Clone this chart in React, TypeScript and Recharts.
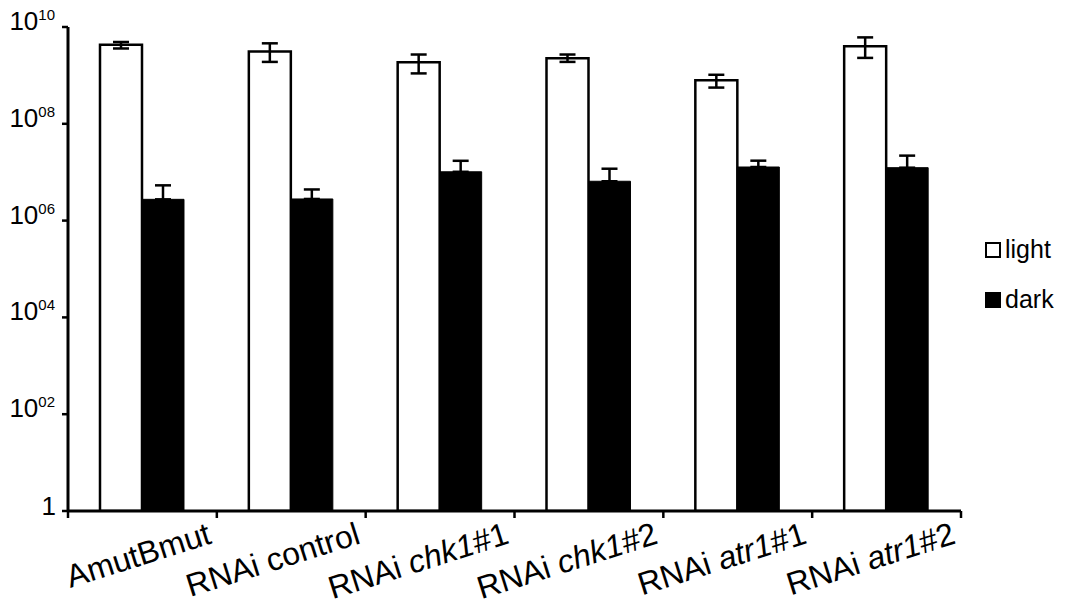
import React from "react";
import { BarChart, Bar, XAxis, YAxis, ErrorBar } from "recharts";

const categories = [
  "AmutBmut",
  "RNAi control",
  "RNAi chk1#1",
  "RNAi chk1#2",
  "RNAi atr1#1",
  "RNAi atr1#2",
];
const lightValues = [4.3e9, 3.1e9, 1.86e9, 2.25e9, 7.9e8, 4.0e9];
const lightErrLow = [0.7e9, 1.2e9, 0.76e9, 0.35e9, 2.3e8, 1.7e9];
const lightErrHigh = [0.6e9, 1.5e9, 0.84e9, 0.45e9, 2.4e8, 2.1e9];
const darkValues = [2.75e6, 2.8e6, 1.02e7, 6.5e6, 1.28e7, 1.24e7];
const darkErrHigh = [2.6e6, 1.6e6, 0.7e7, 5.3e6, 0.45e7, 0.96e7];
const yTicks = [1, 1e2, 1e4, 1e6, 1e8, 1e10];

const data = categories.map((name, i) => ({
  name,
  light: lightValues[i],
  lightErr: [lightErrLow[i], lightErrHigh[i]],
  dark: darkValues[i],
  darkErr: [0, darkErrHigh[i]],
}));

// svg fills the whole page height (body margin cancelled) so labels have room at both edges
const W = 1053;
const H = 610;
const M = { top: 27, right: 100, bottom: 0, left: 0 };
const Y_W = 60;
const X_H = 99;
const band = (W - M.right - Y_W) / categories.length;
const FONT = "'Liberation Sans', Arial, sans-serif";

function YTick({ x, y, payload }: any) {
  const exp = Math.round(Math.log10(payload.value));
  if (exp === 0) {
    return (
      <text x={x + 1} y={y + 4} textAnchor="end" fontSize={26} fontFamily={FONT} fill="#000">
        1
      </text>
    );
  }
  return (
    <text x={x} y={y + 3} textAnchor="end" fontSize={26} fontFamily={FONT} fill="#000">
      10
      <tspan dy={-10} fontSize={15}>
        {String(exp).padStart(2, "0")}
      </tspan>
    </text>
  );
}

function XTick({ x, y, payload, index }: any) {
  const right = x + band / 2;
  const m = /^(RNAi )(\w+)(#\d)$/.exec(payload.value);
  return (
    <g>
      {index === 0 && (
        <line x1={x - band / 2} y1={y} x2={x - band / 2} y2={y + 7} stroke="#000" strokeWidth={2.5} />
      )}
      <line x1={right} y1={y} x2={right} y2={y + 7} stroke="#000" strokeWidth={2.5} />
      <text
        transform={`translate(${right - 4},${y + 32}) rotate(-17.5)`}
        textAnchor="end"
        fontSize={32}
        fontFamily={FONT}
        fill="#000"
      >
        {m ? (
          <>
            {m[1]}
            <tspan fontStyle="italic">{m[2]}</tspan>
            {m[3]}
          </>
        ) : (
          payload.value
        )}
      </text>
    </g>
  );
}

const legendText: React.CSSProperties = {
  position: "absolute",
  fontFamily: FONT,
  fontSize: 25,
  lineHeight: "26px",
  color: "#000",
};
const swatch: React.CSSProperties = {
  position: "absolute",
  width: 16,
  height: 16,
  boxSizing: "border-box",
  border: "2.5px solid #000",
};

export default function App() {
  return (
    <div
      style={{
        position: "relative",
        width: W,
        height: H,
        marginTop: -8,
        marginBottom: -8,
        background: "#fff",
      }}
    >
      <BarChart
        width={W}
        height={H}
        data={data}
        margin={M}
        barCategoryGap="21.5%"
        barGap={0}
      >
        <XAxis
          dataKey="name"
          height={X_H}
          interval={0}
          axisLine={{ stroke: "#000", strokeWidth: 3 }}
          tickLine={false}
          tickSize={0}
          tickMargin={0}
          tick={<XTick />}
        />
        <YAxis
          width={Y_W}
          scale="log"
          type="number"
          domain={[1, 1e10]}
          allowDataOverflow
          ticks={yTicks}
          interval={0}
          axisLine={{ stroke: "#000", strokeWidth: 3 }}
          tickLine={{ stroke: "#000", strokeWidth: 2.5 }}
          tickSize={6}
          tickMargin={7}
          tick={<YTick />}
        />
        <Bar dataKey="light" fill="#fff" stroke="#000" strokeWidth={2.5} isAnimationActive={false}>
          <ErrorBar dataKey="lightErr" width={8} stroke="#000" strokeWidth={2.5} direction="y" />
        </Bar>
        <Bar dataKey="dark" fill="#000" stroke="#000" strokeWidth={1} isAnimationActive={false}>
          <ErrorBar dataKey="darkErr" width={8} stroke="#000" strokeWidth={2.5} direction="y" />
        </Bar>
      </BarChart>
      <div style={{ ...swatch, left: 977, top: 242, background: "#fff" }} />
      <div style={{ ...legendText, left: 997, top: 236 }}>light</div>
      <div style={{ ...swatch, left: 977, top: 292, background: "#000" }} />
      <div style={{ ...legendText, left: 997, top: 286 }}>dark</div>
    </div>
  );
}
